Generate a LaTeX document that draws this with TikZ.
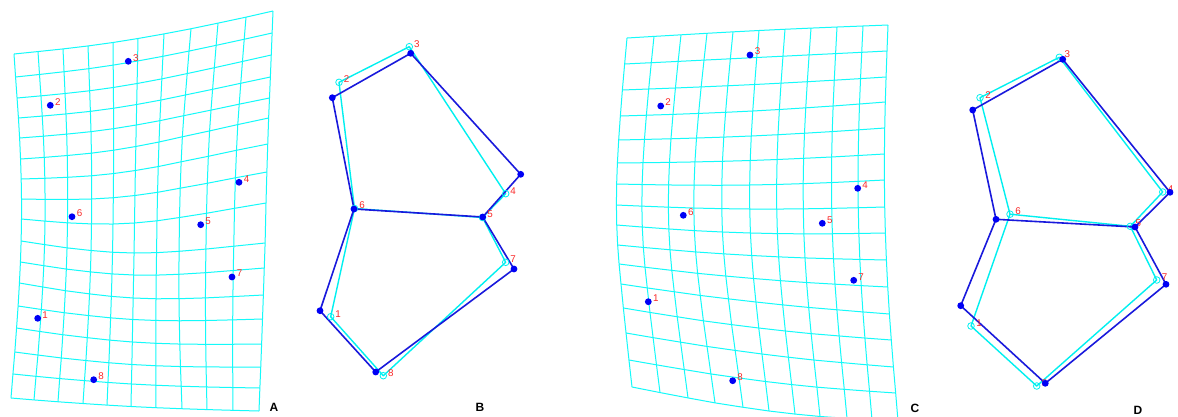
\documentclass[tikz,border=0pt]{standalone}
\usepackage{fontspec}
\setmainfont{Liberation Sans}
\definecolor{gridc}{RGB}{20,250,250}
\definecolor{cyanc}{RGB}{0,240,240}
\definecolor{bluel}{RGB}{25,25,220}
\definecolor{blued}{RGB}{0,0,245}
\definecolor{labc}{RGB}{250,40,40}
\begin{document}
\begin{tikzpicture}[x=1pt,y=-1pt,
  gridline/.style={draw=gridc,line width=1pt,line join=round},
  bdot/.style={circle,fill=blued,inner sep=0pt,minimum size=6.8pt},
  cring/.style={circle,draw=cyanc,line width=0.8pt,inner sep=0pt,minimum size=6.6pt},
  lab/.style={text=labc,inner sep=0pt,font=\fontsize{9.8}{10}\selectfont},
  panel/.style={inner sep=0pt,font=\bfseries\fontsize{12}{13}\selectfont},
  bline/.style={draw=bluel,line width=1.6pt,line join=round},
  cline/.style={draw=cyanc,line width=1.4pt,line join=round}]
\useasboundingbox (0,0) rectangle (1178,416);
\clip (0,0) rectangle (1178,416);
\fill[white] (0,0) rectangle (1178,416);

% ---------------- Panel A grid ----------------
\def\AXT{{14,38,63,88,113,138,164,191,218,246,273}}
\def\AXB{{11,34,58,83,107,131,156,182,207,233,259}}
\def\AFX{{9,9,7,6,3,0,-3,-7,-6,-5,0}}
\def\AYL{{54,77,98,118,138,159,179,199,219,241,262,283,306,328,352,374,398}}
\def\AYR{{11,33,55,77,98,118,144,172,203,243,268,295,319,344,367,388,411}}
\def\AGY{{6,6,7,7,7,8,9,10,12,11,10,9,7,6,5,3,2}}
\foreach \j in {0,...,16}{\foreach \i in {0,...,10}{
  \pgfmathsetmacro\uu{\i/10}\pgfmathsetmacro\vv{\j/16}
  \pgfmathsetmacro\xx{(1-\vv)*\AXT[\i]+\vv*\AXB[\i]+\AFX[\i]*sin(180*\vv)}
  \pgfmathsetmacro\yy{(1-\uu)*\AYL[\j]+\uu*\AYR[\j]+\AGY[\j]*sin(180*\uu)}
  \coordinate (ga-\i-\j) at (\xx,\yy);}}
\foreach \j in {0,...,16}{\draw[gridline] (ga-0-\j) \foreach \i in {1,...,10}{ -- (ga-\i-\j)};}
\foreach \i in {0,...,10}{\draw[gridline] (ga-\i-0) \foreach \j in {1,...,16}{ -- (ga-\i-\j)};}

% ---------------- Panel C grid ----------------
\def\CXT{{627,654,681,707,733,759,785,811,837,863,888}}
\def\CXB{{632,660,688,715,743,769,795,820,847,872,898}}
\def\CFX{{-13,-15,-16,-17,-16,-14,-13,-12,-10,-9,-8}}
\def\CYL{{38,64,90,116,140,163,184,205,225,245,264,284,308,333,360,387}}
\def\CYR{{25,51,77,102,128,154,180,207,233,260,287,314,340,367,393,421}}
\def\CGY{{-1,0,1,2,2,2,3,3,4,3,3,3,4,4,5,7}}
\foreach \j in {0,...,15}{\foreach \i in {0,...,10}{
  \pgfmathsetmacro\uu{\i/10}\pgfmathsetmacro\vv{\j/15}
  \pgfmathsetmacro\xx{(1-\vv)*\CXT[\i]+\vv*\CXB[\i]+\CFX[\i]*sin(180*\vv)}
  \pgfmathsetmacro\yy{(1-\uu)*\CYL[\j]+\uu*\CYR[\j]+\CGY[\j]*sin(180*\uu)}
  \coordinate (gc-\i-\j) at (\xx,\yy);}}
\foreach \j in {0,...,15}{\draw[gridline] (gc-0-\j) \foreach \i in {1,...,10}{ -- (gc-\i-\j)};}
\foreach \i in {0,...,10}{\draw[gridline] (gc-\i-0) \foreach \j in {1,...,15}{ -- (gc-\i-\j)};}

% ---------------- Panel A points ----------------
\foreach \n/\x/\y in {1/37.7/318.3,2/50.3/105.3,3/128.3/61.3,4/239/182.3,5/200.7/224.7,6/72/216.7,7/232/277,8/93.7/379.7}{
  \node[bdot] (pa\n) at (\x,\y) {};
  \node[lab] (la\n) at ([shift={(7.5,-3.5)}]pa\n.center) {\n};}

% ---------------- Panel C points ----------------
\foreach \n/\x/\y in {1/648.3/301.7,2/660.7/106,3/750/55,4/857.7/188.3,5/822.3/223.3,6/683.3/215.3,7/853.7/280.3,8/732.7/380.7}{
  \node[bdot] (pc\n) at (\x,\y) {};
  \node[lab] (lc\n) at ([shift={(7.5,-3.5)}]pc\n.center) {\n};}

% ---------------- Panel B ----------------
\foreach \n/\x/\y in {1/320/310.7,2/332.3/97.7,3/410.7/53.3,4/520.7/174.3,5/482.7/217,6/354/209,7/514/269,8/375.7/372}{
  \coordinate (bb\n) at (\x,\y);}
\foreach \n/\x/\y in {1/330.7/316.7,2/339/82.3,3/409.3/46.7,4/505.7/193.7,5/482.5/217.5,6/354.5/208.5,7/505.7/262.3,8/383.3/375.7}{
  \coordinate (bc\n) at (\x,\y);}
\draw[cline] (bc2) -- (bc3) -- (bc4) -- (bc5) -- (bc6) -- cycle;
\draw[cline] (bc6) -- (bc1) -- (bc8) -- (bc7) -- (bc5);
\draw[bline] (bb2) -- (bb3) -- (bb4) -- (bb5) -- (bb6) -- cycle;
\draw[bline] (bb6) -- (bb1) -- (bb8) -- (bb7) -- (bb5);
\foreach \n in {1,...,8}{
  \node[cring] (bcr\n) at (bc\n) {};
  \node[lab] (lb\n) at ([shift={(7.5,-3)}]bc\n) {\n};}
\foreach \n in {1,...,8}{\node[bdot] (bbd\n) at (bb\n) {};}

% ---------------- Panel D ----------------
\foreach \n/\x/\y in {1/960.7/305.7,2/972.7/110,3/1062.7/59.3,4/1170/192.3,5/1135/227,6/996/219.3,7/1166/284.3,8/1045.3/383.3}{
  \coordinate (db\n) at (\x,\y);}
\foreach \n/\x/\y in {1/971/326,2/980/97.7,3/1059.3/57.3,4/1162.7/192,5/1130.3/226.3,6/1010/214.2,7/1156.7/280,8/1036.7/386}{
  \coordinate (dc\n) at (\x,\y);}
\draw[cline] (dc2) -- (dc3) -- (dc4) -- (dc5) -- (dc6) -- cycle;
\draw[cline] (dc6) -- (dc1) -- (dc8) -- (dc7) -- (dc5);
\draw[bline] (db2) -- (db3) -- (db4) -- (db5) -- (db6) -- cycle;
\draw[bline] (db6) -- (db1) -- (db8) -- (db7) -- (db5);
\foreach \n in {1,...,8}{
  \node[cring] (dcr\n) at (dc\n) {};
  \node[lab] (ld\n) at ([shift={(8,-3)}]dc\n) {\n};}
\foreach \n in {1,...,8}{\node[bdot] (dbd\n) at (db\n) {};}

% ---------------- Panel letters ----------------
\node[panel] (tA) at (274,407) {A};
\node[panel] (tB) at (480,407) {B};
\node[panel] (tC) at (915,408) {C};
\node[panel] (tD) at (1138,410) {D};
\end{tikzpicture}
\end{document}
